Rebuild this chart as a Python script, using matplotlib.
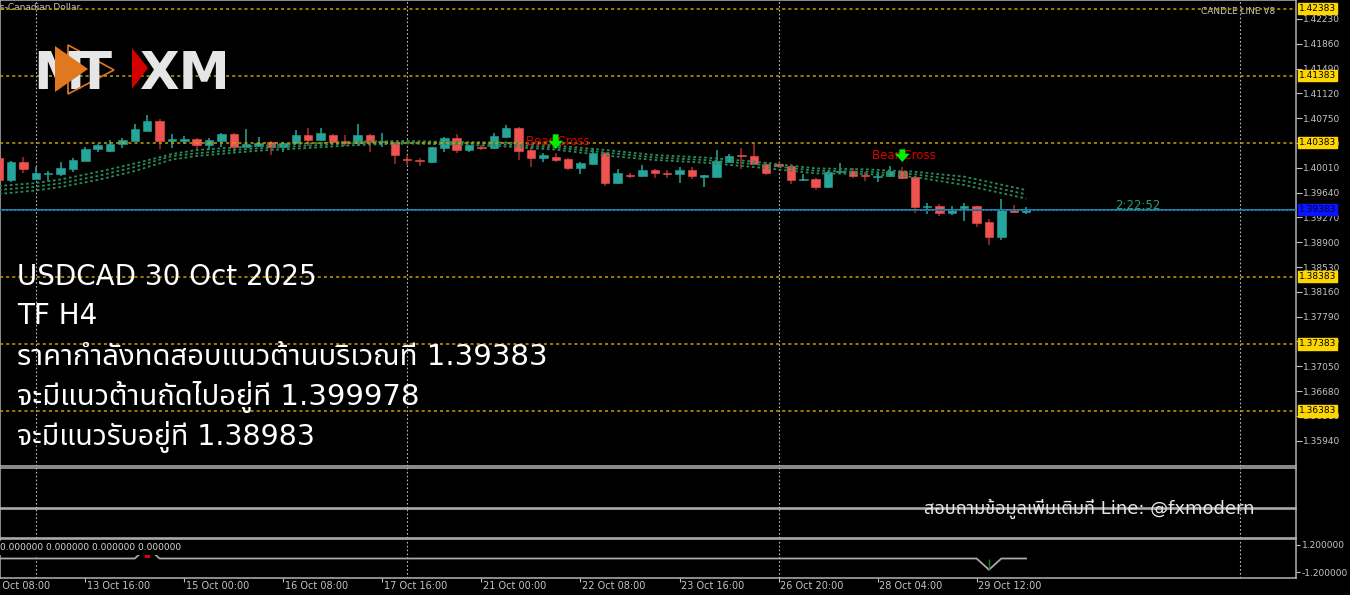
import matplotlib
matplotlib.use('Agg')
import matplotlib.pyplot as plt
from matplotlib.patches import Polygon
from matplotlib import font_manager
from matplotlib.ft2font import FT2Font
import numpy as np


def find_thai_font():
    pref = ['Noto Sans Thai', 'Noto Sans Thai UI', 'Sarabun', 'Loma', 'Garuda',
            'Norasi', 'Kinnari', 'Umpush', 'Waree', 'Tlwg Typo', 'FreeSans']
    names = {}
    for f in font_manager.fontManager.ttflist:
        names.setdefault(f.name, f.fname)
    for p in pref:
        if p in names:
            return p
    for name, fname in names.items():
        try:
            if ord('ก') in FT2Font(fname).get_charmap():
                return name
        except Exception:
            pass
    return None


thai = find_thai_font()
plt.rcParams['font.family'] = ['DejaVu Sans'] + ([thai] if thai else [])

# ---- data (USDCAD H4) ----
opens = [1.40157, 1.39824, 1.40092, 1.39844, 1.39918, 1.39918, 1.39997, 1.40112, 1.40286, 1.40261,
         1.40361, 1.40415, 1.40564, 1.40704, 1.40415, 1.40405, 1.40440, 1.40346, 1.40415, 1.40510,
         1.40325, 1.40336, 1.40391, 1.40325, 1.40376, 1.40504, 1.40425, 1.40504, 1.40405, 1.40385,
         1.40504, 1.40395, 1.40385, 1.40142, 1.40127, 1.40102, 1.40310, 1.40450, 1.40276, 1.40325,
         1.40300, 1.40470, 1.40599, 1.40271, 1.40152, 1.40176, 1.40137, 1.40002, 1.40067, 1.40226,
         1.39779, 1.39907, 1.39883, 1.39973, 1.39937, 1.39918, 1.39973, 1.39878, 1.39878, 1.40102,
         1.40201, 1.40191, 1.40062, 1.40062, 1.40042, 1.39824, 1.39844, 1.39719, 1.39943, 1.39967,
         1.39903, 1.39873, 1.39883, 1.39963, 1.39873, 1.39421, 1.39440, 1.39341, 1.39411, 1.39435,
         1.39202, 1.38978, 1.39381, 1.39346]
highs = [1.40201, 1.40112, 1.40176, 1.40027, 1.39967, 1.40092, 1.40161, 1.40325, 1.40366, 1.40425,
         1.40460, 1.40659, 1.40798, 1.40739, 1.40519, 1.40485, 1.40460, 1.40451, 1.40534, 1.40534,
         1.40589, 1.40475, 1.40410, 1.40395, 1.40574, 1.40604, 1.40604, 1.40514, 1.40504, 1.40664,
         1.40514, 1.40529, 1.40395, 1.40201, 1.40152, 1.40325, 1.40475, 1.40510, 1.40351, 1.40351,
         1.40529, 1.40649, 1.40619, 1.40325, 1.40236, 1.40226, 1.40157, 1.40102, 1.40301, 1.40246,
         1.39988, 1.39933, 1.40047, 1.39993, 1.39978, 1.40027, 1.40027, 1.39903, 1.40276, 1.40216,
         1.40310, 1.40385, 1.40092, 1.40092, 1.40067, 1.39918, 1.39859, 1.39963, 1.40077, 1.40002,
         1.39952, 1.39928, 1.40037, 1.40027, 1.39888, 1.39490, 1.39470, 1.39440, 1.39485, 1.39445,
         1.39242, 1.39540, 1.39456, 1.39421]
lows = [1.39799, 1.39804, 1.39928, 1.39836, 1.39814, 1.39893, 1.39952, 1.40105, 1.40251, 1.40246,
        1.40310, 1.40410, 1.40559, 1.40286, 1.40310, 1.40361, 1.40295, 1.40276, 1.40325, 1.40251,
        1.40320, 1.40331, 1.40201, 1.40251, 1.40366, 1.40336, 1.40415, 1.40380, 1.40341, 1.40341,
        1.40251, 1.40316, 1.40067, 1.40052, 1.40042, 1.40082, 1.40251, 1.40236, 1.40251, 1.40276,
        1.40291, 1.40455, 1.40127, 1.40022, 1.40102, 1.40102, 1.39978, 1.39918, 1.40052, 1.39743,
        1.39769, 1.39863, 1.39873, 1.39853, 1.39863, 1.39779, 1.39848, 1.39719, 1.39868, 1.40097,
        1.39988, 1.40052, 1.39903, 1.40012, 1.39769, 1.39820, 1.39684, 1.39709, 1.39928, 1.39853,
        1.39814, 1.39799, 1.39873, 1.39844, 1.39341, 1.39322, 1.39291, 1.39306, 1.39222, 1.39122,
        1.38859, 1.38934, 1.39331, 1.39322]
closes = [1.39829, 1.40092, 1.39988, 1.39928, 1.39933, 1.40008, 1.40122, 1.40295, 1.40355, 1.40366,
          1.40421, 1.40589, 1.40704, 1.40415, 1.40435, 1.40440, 1.40346, 1.40425, 1.40510, 1.40316,
          1.40366, 1.40385, 1.40325, 1.40385, 1.40504, 1.40425, 1.40529, 1.40400, 1.40385, 1.40504,
          1.40391, 1.40405, 1.40201, 1.40122, 1.40107, 1.40320, 1.40450, 1.40276, 1.40346, 1.40300,
          1.40480, 1.40599, 1.40266, 1.40152, 1.40201, 1.40127, 1.40002, 1.40077, 1.40226, 1.39779,
          1.39937, 1.39883, 1.39973, 1.39928, 1.39918, 1.39973, 1.39893, 1.39898, 1.40112, 1.40191,
          1.40181, 1.40062, 1.39928, 1.40037, 1.39829, 1.39844, 1.39719, 1.39952, 1.39967, 1.39883,
          1.39883, 1.39893, 1.39963, 1.39858, 1.39421, 1.39445, 1.39331, 1.39391, 1.39435, 1.39192,
          1.38978, 1.39391, 1.39346, 1.39383]

# moving-average ribbon, read at sampled bars
ma_idx = [0, 3, 5, 8, 11, 14, 16, 19, 21, 25, 29, 33, 37, 41, 45, 49, 53, 57, 61, 66, 70, 74, 78, 83]
ma_fast = [1.39739, 1.39783, 1.39836, 1.39948, 1.40074, 1.40216, 1.40276, 1.40313, 1.40336, 1.40373,
           1.40403, 1.40410, 1.40395, 1.40388, 1.40343, 1.40276, 1.40201, 1.40164, 1.40104, 1.40002,
           1.39988, 1.39952, 1.39878, 1.39679]
ma_mid = [1.39679, 1.39729, 1.39779, 1.39888, 1.40022, 1.40186, 1.40226, 1.40276, 1.40301, 1.40340,
          1.40380, 1.40395, 1.40380, 1.40358, 1.40313, 1.40238, 1.40164, 1.40127, 1.40067, 1.39967,
          1.39952, 1.39913, 1.39817, 1.39615]
ma_slow = [1.39620, 1.39672, 1.39724, 1.39829, 1.39963, 1.40134, 1.40186, 1.40236, 1.40266, 1.40306,
           1.40351, 1.40373, 1.40358, 1.40328, 1.40281, 1.40194, 1.40127, 1.40087, 1.40022, 1.39928,
           1.39918, 1.39873, 1.39754, 1.39552]

levels = [1.42383, 1.41383, 1.40383, 1.38383, 1.37383, 1.36383]
current_price = 1.39383
price_ticks = [1.42230, 1.41860, 1.41490, 1.41120, 1.40750, 1.40380, 1.40010, 1.39640, 1.39270,
               1.38900, 1.38530, 1.38160, 1.37790, 1.37420, 1.37050, 1.36680, 1.36310, 1.35940]

bear_cross_idx = [45, 73]
bear_cross_text_y = [1.40408, 1.40200]
bear_arrow_top = [1.40510, 1.40286]
bear_arrow_tip = [1.40290, 1.40097]

time_idx = [-1, 7, 15, 23, 31, 39, 47, 55, 63, 71, 79]
time_labels = ['10 Oct 08:00', '13 Oct 16:00', '15 Oct 00:00', '16 Oct 08:00', '17 Oct 16:00',
               '21 Oct 00:00', '22 Oct 08:00', '23 Oct 16:00', '26 Oct 20:00', '28 Oct 04:00',
               '29 Oct 12:00']
grid_idx = [3, 33, 63, 100.3]

ind_values = [0.0] * 84
ind_values[12] = 1.0
ind_values[80] = -1.0
ind_marker_idx = 12
ind_marker_val = 0.35

text_lines = ['USDCAD 30 Oct 2025', 'TF H4',
              'ราคากำลังทดสอบแนวต้านบริเวณที 1.39383',
              'จะมีแนวต้านถัดไปอยู่ที 1.399978',
              'จะมีแนวรับอยู่ที 1.38983']
contact = 'สอบถามข้อมูลเพิ่มเติมที่ Line: @fxmodern'

# ---- style ----
W, H = 1350, 595
BULL = '#26a69a'
BEAR = '#ef5350'
BEAR_WICK = '#b02a2a'
GRID = '#bdbdbd'
BORDER = '#b4b4b4'
AXTXT = '#c4c4c4'
XLIM = (0.11, 104.8)


def fx(x):
    return x / W


def fy(y):
    return 1 - y / H


fig = plt.figure(figsize=(W / 100, H / 100), dpi=100, facecolor='black')

ax = fig.add_axes([0, fy(466), 1296 / W, 466 / H])
ax2 = fig.add_axes([0, fy(508), 1296 / W, 40 / H])
ax3 = fig.add_axes([0, fy(538), 1296 / W, 29 / H])
ax4 = fig.add_axes([0, fy(578), 1296 / W, 39 / H])

for a in (ax, ax2, ax3, ax4):
    a.set_facecolor('black')
    a.set_xlim(*XLIM)
    for s in a.spines.values():
        s.set_color(BORDER)
        s.set_linewidth(1.1)
    a.tick_params(axis='x', bottom=False, labelbottom=False)
    a.tick_params(axis='y', left=False, labelleft=False)
    for g in grid_idx:
        a.axvline(g, color=GRID, lw=0.8, ls=(0, (1.5, 2)), zorder=1)

# main price panel
ax.set_ylim(1.355625, 1.425134)
ax.yaxis.tick_right()
ax.set_yticks(price_ticks)
ax.set_yticklabels([f'{t:.5f}' for t in price_ticks])
ax.tick_params(axis='y', right=True, labelright=True, direction='out', length=4, width=0.8,
               color=AXTXT, labelcolor=AXTXT, labelsize=6.5, pad=1)

o = np.array(opens); h = np.array(highs); l = np.array(lows); c = np.array(closes)
x = np.arange(len(o))
up = c >= o
body_col = np.where(up, BULL, BEAR)
wick_col = np.where(up, BULL, BEAR_WICK)
min_body = 0.00018
body_h = np.maximum(np.abs(c - o), min_body)
body_b = np.where(np.abs(c - o) < min_body, (o + c) / 2 - min_body / 2, np.minimum(o, c))
ax.vlines(x, l, h, colors=wick_col, lw=1.1, zorder=2)
ax.bar(x, body_h, bottom=body_b, width=0.68, color=body_col, edgecolor=body_col, lw=0.4, zorder=3)

for ma in (ma_fast, ma_mid, ma_slow):
    ax.plot(ma_idx, ma, color='#2a8a5a', lw=1.3, ls=(0, (1.5, 1.5)), zorder=4)

trans_r = ax.get_yaxis_transform()
for lv in levels:
    ax.axhline(lv, color='#c8a000', lw=1.1, ls=(0, (2, 2)), zorder=5)
    ax.text(1.0 + 3 / 1296, lv, f'{lv:.5f}', transform=trans_r, ha='left', va='center',
            fontsize=6.5, color='black', clip_on=False, zorder=10,
            bbox=dict(boxstyle='square,pad=0.12', fc='#ffd700', ec='#ffd700'))

ax.axhline(current_price, color='#1f8a9a', lw=1.4, zorder=5)
ax.axhline(current_price, color='#1633c8', lw=0.7, ls=(0, (2, 2)), zorder=5)
ax.text(1.0 + 3 / 1296, current_price, f'{current_price:.5f}', transform=trans_r, ha='left',
        va='center', fontsize=6.5, color='#000038', clip_on=False, zorder=10,
        bbox=dict(boxstyle='square,pad=0.12', fc='#0a14ff', ec='#0a14ff'))
ax.text(92, current_price + 0.00072, '2:22:52', ha='center', va='center', fontsize=8.5,
        color='#2e9e6e', zorder=6)

for k, ty, a0, a1 in zip(bear_cross_idx, bear_cross_text_y, bear_arrow_top, bear_arrow_tip):
    ax.text(k + 0.15, ty, 'Bear Cross', ha='center', va='center', fontsize=8.5,
            color='#dd0000', zorder=6)
    ax.annotate('', xy=(k, a1), xytext=(k, a0), zorder=7,
                arrowprops=dict(arrowstyle='simple,head_width=0.9,head_length=0.5,tail_width=0.35',
                                color='#00ee00', lw=0, shrinkA=0, shrinkB=0, mutation_scale=12))

ax.text(0.0, 1 - 8 / 466, 's-Canadian Dollar', transform=ax.transAxes, ha='left', va='center',
        fontsize=6.5, color=AXTXT)
ax.text(1275 / 1296, 1 - 12 / 466, 'CANDLE LINE V8', transform=ax.transAxes, ha='right',
        va='center', fontsize=6.5, color=AXTXT)

# indicator panel
ax4.set_ylim(-1.733, 1.733)
ax4.plot(np.arange(len(ind_values)), ind_values, color='#a8a8a8', lw=1.3, zorder=3)
ax4.vlines([80], [ind_values[80]], [0], color='#1c7a1c', lw=1, zorder=4)
ax4.plot([ind_marker_idx], [ind_marker_val], 's', color='#e00000', ms=3.5, zorder=5)
ax4.yaxis.tick_right()
ax4.set_yticks([1.2, -1.2])
ax4.set_yticklabels(['1.200000', '-1.200000'])
ax4.tick_params(axis='y', right=True, labelright=True, direction='out', length=3, width=0.8,
                color=AXTXT, labelcolor=AXTXT, labelsize=6.5, pad=1)
ax4.text(0.0, 1 - 9 / 39, '0.000000 0.000000 0.000000 0.000000', transform=ax4.transAxes,
         ha='left', va='center', fontsize=6.5, color='#d8d8d8', zorder=6,
         bbox=dict(boxstyle='square,pad=0.25', fc='black', ec='none'))
ax4.set_xticks([t for t in time_idx if t > XLIM[0]])
ax4.tick_params(axis='x', bottom=True, direction='out', length=3, width=0.8, color=AXTXT)
for k, lab in zip(time_idx, time_labels):
    ax4.text(k + 0.1, -0.08, lab, transform=ax4.get_xaxis_transform(), ha='left', va='top',
             fontsize=7, color=AXTXT, clip_on=False,
             family=['Liberation Sans Narrow', 'DejaVu Sans'])

# overlay texts
ys = [277, 316, 357, 397, 437]
sizes = [20, 20, 21, 21, 20.5]
for t, yy, fs in zip(text_lines, ys, sizes):
    fig.text(fx(17), fy(yy), t, ha='left', va='center', fontsize=fs, color='white', zorder=20)
fig.text(fx(1255), fy(509), contact, ha='right', va='center', fontsize=13, color='#e6e6e6',
         zorder=20)

# logo
LOGO = '#e6e6e6'
fig.text(fx(33), fy(89), 'M', fontsize=37, weight='bold', color=LOGO, va='baseline', zorder=21)
fig.add_artist(Polygon([(fx(68), fy(45)), (fx(114), fy(70)), (fx(68), fy(94))], closed=True,
                       fill=False, ec='#e07820', lw=1.2, transform=fig.transFigure, zorder=21.5))
fig.add_artist(Polygon([(fx(55), fy(46)), (fx(88), fy(69)), (fx(55), fy(92))], closed=True,
                       fc='#e07820', ec='none', transform=fig.transFigure, zorder=22))
fig.text(fx(77), fy(89), 'T', fontsize=37, weight='bold', color=LOGO, va='baseline', zorder=23)
fig.add_artist(Polygon([(fx(132), fy(48)), (fx(148), fy(68)), (fx(132), fy(89))], closed=True,
                       fc='#d40000', ec='none', transform=fig.transFigure, zorder=22))
fig.text(fx(139), fy(89), 'XM', fontsize=37, weight='bold', color=LOGO, va='baseline', zorder=23)

fig.savefig('out.png', dpi=100, facecolor='black')
